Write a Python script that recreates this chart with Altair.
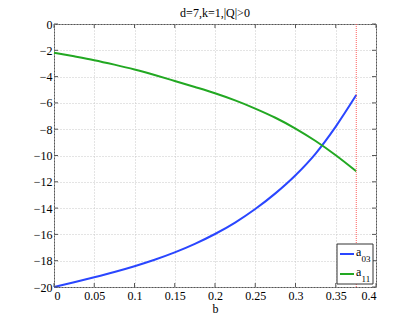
import altair as alt
import pandas as pd

# ---- data ----
b_vals = [0.0, 0.025, 0.05, 0.075, 0.1, 0.125, 0.15, 0.175, 0.2, 0.225,
          0.25, 0.275, 0.3, 0.325, 0.35, 0.3755]
a03_vals = [-20.0, -19.64, -19.26, -18.86, -18.42, -17.93, -17.37, -16.72, -15.97,
            -15.1, -14.07, -12.88, -11.5, -9.85, -7.8, -5.4]
a11_vals = [-2.19, -2.46, -2.75, -3.09, -3.46, -3.88, -4.33, -4.79, -5.27, -5.81,
            -6.43, -7.13, -7.95, -8.9, -9.98, -11.2]
series_names = ["a03", "a11"]
legend_main = ["a", "a"]
legend_sub = ["03", "11"]
series_colors = ["#2a46ff", "#22a822"]
b_limit = [0.3755]
x_ticks = [0, 0.05, 0.1, 0.15, 0.2, 0.25, 0.3, 0.35, 0.4]
y_ticks = [0, -2, -4, -6, -8, -10, -12, -14, -16, -18, -20]

W, H = 322, 263
FONT = "Liberation Serif"

rows = []
for b, v in zip(b_vals, a03_vals):
    rows.append({"b": b, "v": v, "s": series_names[0]})
for b, v in zip(b_vals, a11_vals):
    rows.append({"b": b, "v": v, "s": series_names[1]})
df = pd.DataFrame(rows)

xs = alt.Scale(domain=[0, 0.4], nice=False, zero=False)
ys = alt.Scale(domain=[-20, 0], nice=False, zero=False)
cs = alt.Scale(domain=series_names, range=series_colors)
AX = alt.Axis(values=x_ticks, format=".2~f", labelOverlap=False)
AY = alt.Axis(values=y_ticks, format="d", labelOverlap=False)


def X(field):
    return alt.X(field, scale=xs, title="b", axis=AX)


def Y(field):
    return alt.Y(field, scale=ys, title=None, axis=AY)


lines = alt.Chart(df).mark_line(strokeWidth=2, interpolate="monotone").encode(
    x=X("b:Q"), y=Y("v:Q"),
    color=alt.Color("s:N", scale=cs, legend=None),
)

limit = alt.Chart(pd.DataFrame({"b": b_limit})).mark_rule(
    color="#ff6060", strokeDash=[1, 1], strokeWidth=1
).encode(x=X("b:Q"))

xt = pd.DataFrame({"t": x_ticks})
yt = pd.DataFrame({"t": y_ticks})
tick_style = dict(color="#555", strokeWidth=1)
xb = alt.Chart(xt).mark_rule(**tick_style).encode(
    x=X("t:Q"), y=alt.value(H), y2=alt.value(H - 4))
xtp = alt.Chart(xt).mark_rule(**tick_style).encode(
    x=X("t:Q"), y=alt.value(0), y2=alt.value(4))
yl = alt.Chart(yt).mark_rule(**tick_style).encode(
    y=Y("t:Q"), x=alt.value(0), x2=alt.value(4))
yr = alt.Chart(yt).mark_rule(**tick_style).encode(
    y=Y("t:Q"), x=alt.value(W), x2=alt.value(W - 4))

# ---- legend (manual, for subscripts) ----
one = pd.DataFrame({"k": [0]})
leg_layers = [
    alt.Chart(one).mark_rect(fill="white", stroke="#333", strokeWidth=1).encode(
        x=alt.value(283), x2=alt.value(319), y=alt.value(220), y2=alt.value(260))
]
for i in range(2):
    ly = 230 + 20 * i
    leg_layers.append(
        alt.Chart(one).mark_rule(strokeWidth=2, color=series_colors[i]).encode(
            x=alt.value(286), x2=alt.value(300), y=alt.value(ly)))
    leg_layers.append(
        alt.Chart(one).mark_text(font=FONT, fontSize=12, align="left",
                                 baseline="alphabetic", color="black").encode(
            x=alt.value(302), y=alt.value(ly + 2), text=alt.value(legend_main[i])))
    leg_layers.append(
        alt.Chart(one).mark_text(font=FONT, fontSize=9, align="left",
                                 baseline="alphabetic", color="black").encode(
            x=alt.value(307.5), y=alt.value(ly + 7.5), text=alt.value(legend_sub[i])))

chart = alt.layer(
    lines, limit, xb, xtp, yl, yr, *leg_layers
).properties(
    width=W, height=H,
    title=alt.TitleParams("d=7,k=1,|Q|>0", font=FONT, fontSize=12,
                          fontWeight="normal", color="black", offset=8, dy=10,
                          anchor="middle", frame="group"),
    autosize=alt.AutoSizeParams(type="none"),
    padding={"left": 46, "top": 16, "right": 31, "bottom": 28},
).configure_view(
    stroke="#555", strokeWidth=1
).configure_axis(
    labelFont=FONT, labelFontSize=12, labelColor="black",
    titleFont=FONT, titleFontSize=12, titleFontWeight="normal", titleColor="black",
    domain=False, ticks=False, labelPadding=3, titlePadding=2,
    gridColor="#c8c8c8", gridDash=[1, 2], gridWidth=1,
).configure_axisY(labelPadding=2)

chart.save("out.html", embed_options={"renderer": "svg", "actions": False})
